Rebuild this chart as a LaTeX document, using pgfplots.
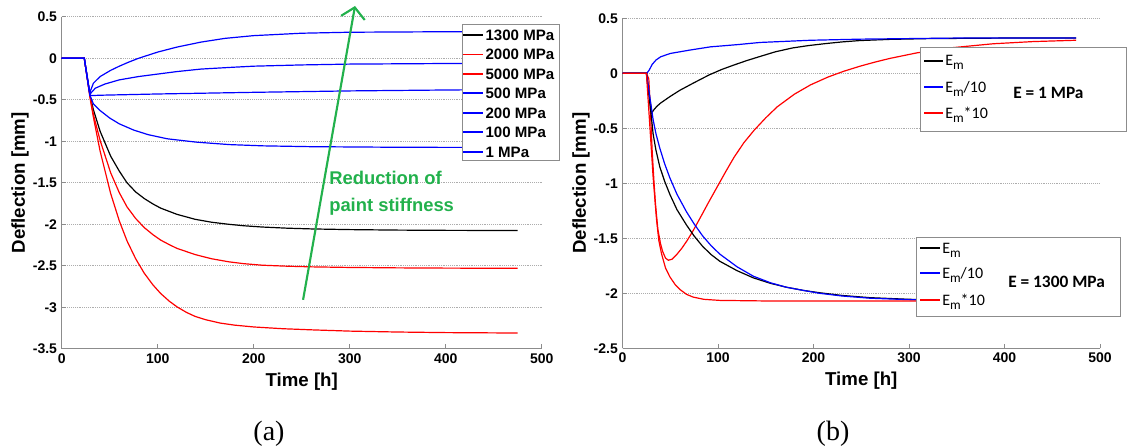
\documentclass[border=0pt]{standalone}
\usepackage{fontspec}
\setmainfont{Liberation Sans}
\newfontfamily\carlito{Carlito}
\newfontfamily\seriffont{Liberation Serif}
\usepackage{pgfplots}
\pgfplotsset{compat=1.18}
\usetikzlibrary{arrows.meta}
\definecolor{axgray}{gray}{0.55}
\definecolor{gridgray}{gray}{0.68}
\definecolor{pgreen}{RGB}{34,177,76}
\definecolor{lblue}{RGB}{0,0,255}
\definecolor{lred}{RGB}{255,0,0}
\newcommand\Em{E\raisebox{-0.55ex}{\fontsize{10}{10}\selectfont m}}
\tikzset{legsample/.style={line width=1.4pt}}

\pgfplotsset{
  every non boxed x axis/.style={},
  every non boxed y axis/.style={},
  mystyle/.style={
    scale only axis,
    anchor=south west,
    axis x line=bottom, axis y line=left,
    x axis line style={-}, y axis line style={-},
    axis line style={draw=axgray, line width=0.7pt},
    tick style={draw=axgray, line width=0.6pt},
    tick align=inside,
    major tick length=3.5pt,
    enlargelimits=false,
    xmin=0, xmax=500,
    xtick={0,100,200,300,400,500},
    xticklabels={0,100,200,300,400,500},
    ymajorgrids,
    grid style={densely dotted, gridgray, line width=0.5pt},
    ticklabel style={font=\fontsize{10.5}{12}\selectfont\bfseries},
    label style={font=\fontsize{14}{16}\selectfont\bfseries},
    xlabel={Time [h]},
    ylabel={Deflection [mm]},
    ylabel style={at={(axis description cs:-0.087,0.5)}, anchor=center},
    every axis plot/.append style={line width=0.9pt},
  },
}

\begin{document}
\begin{tikzpicture}
\useasboundingbox (0,0) rectangle (845.25pt,336pt);

% ---------------- (a) ----------------
\begin{axis}[mystyle,
  at={(46.3pt,74.4pt)}, width=360pt, height=249pt,
  ymin=-3.5, ymax=0.5,
  ytick={-3.5,-3,-2.5,-2,-1.5,-1,-0.5,0,0.5},
  yticklabels={-3.5,-3,-2.5,-2,-1.5,-1,-0.5,0,0.5},
  clip=false,
]
% 1300 MPa
\addplot[black] coordinates {(0,0)(23.5,0)(29.5,-0.45)(33,-0.62)(40,-0.88)(51,-1.18)(60,-1.36)(68,-1.5)(77,-1.61)(86,-1.69)(95,-1.755)(103,-1.805)(120,-1.88)(139,-1.94)(156,-1.975)(174,-2.0)(190,-2.018)(209,-2.033)(235,-2.047)(261,-2.056)(300,-2.064)(350,-2.07)(400,-2.073)(475,-2.075)};
% 2000 MPa
\addplot[lred] coordinates {(0,0)(23.5,0)(29.5,-0.46)(33,-0.68)(40,-0.99)(51,-1.38)(60,-1.62)(68,-1.79)(77,-1.93)(86,-2.04)(95,-2.125)(103,-2.19)(112,-2.245)(120,-2.29)(139,-2.365)(156,-2.415)(174,-2.452)(190,-2.475)(209,-2.493)(235,-2.505)(261,-2.513)(300,-2.52)(350,-2.525)(400,-2.528)(475,-2.53)};
% 5000 MPa
\addplot[lred] coordinates {(0,0)(23.5,0)(29.5,-0.48)(33,-0.71)(40,-1.12)(51,-1.63)(60,-1.96)(68,-2.2)(77,-2.415)(86,-2.59)(95,-2.73)(103,-2.833)(112,-2.926)(120,-2.994)(130,-3.062)(139,-3.11)(150,-3.15)(165,-3.19)(180,-3.215)(200,-3.237)(230,-3.258)(261,-3.272)(300,-3.287)(350,-3.298)(400,-3.305)(475,-3.31)};
% 500 MPa
\addplot[lblue] coordinates {(0,0)(23.5,0)(29.5,-0.45)(33,-0.55)(40,-0.63)(50,-0.72)(60,-0.79)(75,-0.865)(90,-0.92)(110,-0.97)(140,-1.01)(175,-1.04)(210,-1.055)(260,-1.065)(350,-1.072)(475,-1.075)};
% 200 MPa
\addplot[lblue] coordinates {(0,0)(23.5,0)(29.5,-0.45)(40,-0.445)(100,-0.43)(200,-0.41)(300,-0.393)(400,-0.382)(475,-0.376)};
% 100 MPa
\addplot[lblue] coordinates {(0,0)(23.5,0)(29.5,-0.43)(35,-0.36)(45,-0.31)(60,-0.26)(80,-0.22)(100,-0.19)(120,-0.16)(145,-0.13)(175,-0.11)(200,-0.095)(250,-0.08)(300,-0.07)(400,-0.063)(475,-0.06)};
% 1 MPa
\addplot[lblue] coordinates {(0,0)(23.5,0)(29,-0.42)(33,-0.3)(40,-0.22)(51,-0.145)(60,-0.095)(70,-0.045)(80,0.0)(100,0.075)(120,0.135)(145,0.195)(170,0.24)(200,0.273)(250,0.302)(300,0.314)(400,0.32)(475,0.32)};
\draw[pgreen, line width=1.6pt, -{Straight Barb[length=8pt,width=18pt]}] (axis cs:251.4,-2.91) -- (axis cs:305.5,0.63);
\node[anchor=west, align=left, inner sep=0pt, text=pgreen, font=\fontsize{13.8}{20}\selectfont\bfseries] at (axis cs:278.4,-1.627) {Reduction of\\paint stiffness};
\end{axis}

% ---------------- (b) ----------------
\begin{axis}[mystyle,
  at={(466.9pt,74.8pt)}, width=358.1pt, height=247.5pt,
  ymin=-2.5, ymax=0.5,
  ytick={-2.5,-2,-1.5,-1,-0.5,0,0.5},
  yticklabels={-2.5,-2,-1.5,-1,-0.5,0,0.5},
]
% E = 1 MPa : Em, Em/10, Em*10
\addplot[black] coordinates {(0,0)(25,0)(30.5,-0.36)(33,-0.33)(36,-0.3)(40,-0.27)(45,-0.24)(50,-0.21)(60,-0.155)(74,-0.09)(90.7,-0.015)(104,0.035)(117,0.076)(130,0.115)(143,0.15)(160,0.195)(178,0.23)(195,0.252)(213,0.27)(230,0.285)(248,0.297)(280,0.308)(320,0.315)(400,0.32)(475,0.32)};
\addplot[lblue] coordinates {(0,0)(25.5,0)(28,0.03)(31,0.08)(35,0.12)(40,0.15)(50,0.18)(70,0.21)(92,0.24)(120,0.26)(144,0.28)(197,0.30)(249,0.31)(350,0.32)(475,0.32)};
\addplot[lred] coordinates {(0,0)(25,0)(27.5,-0.05)(29,-0.3)(31,-0.7)(33,-1.0)(34.6,-1.2)(37,-1.42)(39.8,-1.55)(42,-1.62)(45,-1.68)(48,-1.70)(52,-1.69)(57,-1.645)(62,-1.592)(67.7,-1.52)(74,-1.43)(81.6,-1.31)(90,-1.175)(99,-1.035)(108,-0.895)(116.7,-0.765)(127,-0.632)(137.6,-0.52)(150,-0.405)(162,-0.305)(180,-0.19)(197,-0.105)(215,-0.035)(231.6,0.018)(249,0.065)(265,0.103)(280,0.135)(308,0.185)(340,0.228)(388,0.268)(430,0.288)(475,0.30)};
% E = 1300 MPa : Em, Em/10, Em*10
\addplot[black] coordinates {(0,0)(25,0)(30,-0.38)(32,-0.55)(35,-0.7)(39,-0.85)(44,-0.98)(49.5,-1.1)(57,-1.24)(67,-1.38)(75,-1.48)(84,-1.575)(93,-1.65)(102,-1.71)(120,-1.795)(137,-1.86)(155,-1.91)(171.5,-1.945)(190,-1.975)(206,-1.995)(230,-2.02)(259,-2.04)(300,-2.055)(350,-2.063)(400,-2.068)(475,-2.07)};
\addplot[lblue] coordinates {(0,0)(25,0)(30,-0.3)(32,-0.42)(35,-0.55)(39,-0.68)(44,-0.82)(49.5,-0.95)(57,-1.1)(67,-1.26)(75,-1.37)(84,-1.48)(93,-1.57)(102,-1.645)(120,-1.76)(137,-1.845)(155,-1.905)(171.5,-1.945)(190,-1.975)(206,-2.0)(230,-2.025)(259,-2.045)(300,-2.058)(350,-2.065)(400,-2.07)(475,-2.072)};
\addplot[lred] coordinates {(0,0)(25,0)(28.6,-0.48)(32,-0.94)(35.6,-1.33)(38,-1.52)(40.8,-1.64)(45,-1.77)(49.5,-1.85)(55,-1.92)(60,-1.965)(67,-2.01)(74,-2.035)(85,-2.055)(102,-2.065)(150,-2.07)(475,-2.072)};
\end{axis}

% ---------------- legends ----------------
% (a)
\draw[axgray, fill=white, line width=0.6pt] (346.5pt,215.5pt) rectangle (419.25pt,318pt);
\foreach \c/\t [count=\k from 0] in {black/1300 MPa, lred/2000 MPa, lred/5000 MPa, lblue/500 MPa, lblue/200 MPa, lblue/100 MPa, lblue/1 MPa} {
  \pgfmathsetmacro\yy{309.75-14.6*\k}
  \pgfmathsetmacro\yb{\yy-4.05}
  \draw[\c, legsample] (347.5pt,\yy pt) -- (362.5pt,\yy pt);
  \node[anchor=base west, inner sep=0pt, font=\fontsize{11.3}{12}\selectfont\bfseries] at (364pt,\yb pt) {\t};
}
% (b) E = 1 MPa
\draw[axgray, fill=white, line width=0.6pt] (690pt,237.75pt) rectangle (844.5pt,300.75pt);
\draw[black, legsample] (693pt,290.5pt) -- (707.25pt,290.5pt);
\draw[lblue, legsample] (693pt,270.75pt) -- (707.25pt,270.75pt);
\draw[lred, legsample] (693pt,251pt) -- (707.25pt,251pt);
\begin{scope}[every node/.style={anchor=base west, inner sep=0pt, font=\carlito\fontsize{12}{13}\selectfont}]
\node at (708.75pt,286.65pt) {\Em};
\node at (708.75pt,266.9pt) {\Em/10};
\node at (708.75pt,247.15pt) {\Em*10};
\node[font=\carlito\bfseries\fontsize{13}{14}\selectfont] at (759.75pt,261.8pt) {E = 1 MPa};
\end{scope}
% (b) E = 1300 MPa
\draw[axgray, fill=white, line width=0.6pt] (687pt,98.5pt) rectangle (840pt,158pt);
\draw[black, legsample] (690pt,149.8pt) -- (705pt,149.8pt);
\draw[lblue, legsample] (690pt,131pt) -- (705pt,131pt);
\draw[lred, legsample] (690pt,111pt) -- (705pt,111pt);
\begin{scope}[every node/.style={anchor=base west, inner sep=0pt, font=\carlito\fontsize{12}{13}\selectfont}]
\node at (706.5pt,145.95pt) {\Em};
\node at (706.5pt,127.15pt) {\Em/10};
\node at (706.5pt,107.15pt) {\Em*10};
\node[font=\carlito\bfseries\fontsize{13}{14}\selectfont] at (756pt,120.5pt) {E = 1300 MPa};
\end{scope}

\node[font=\seriffont\fontsize{21}{24}\selectfont] at (201.75pt,10.5pt) {(a)};
\node[font=\seriffont\fontsize{21}{24}\selectfont] at (624.75pt,10.5pt) {(b)};
\end{tikzpicture}
\end{document}
